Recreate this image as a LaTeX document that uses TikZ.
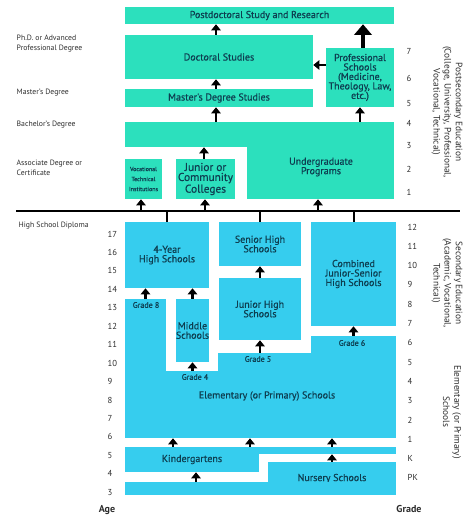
\documentclass[tikz,border=0pt]{standalone}
\usepackage{fontspec}
\setmainfont{PT Sans}
\newfontfamily\zonefont[FakeBold=0.5]{PT Sans}
\usetikzlibrary{arrows.meta}

\definecolor{post}{RGB}{44,224,189}
\definecolor{sec}{RGB}{54,205,238}
\definecolor{ink}{RGB}{14,62,80}
\definecolor{side}{RGB}{45,45,45}

\tikzset{
  rect/.style n args={4}{minimum width={(#3-#1)*0.75pt}, minimum height={(#4-#2)*0.75pt},
    at={({(#1+#3)/2},{(#2+#4)/2})}},
  zone/.style={inner sep=0pt, text=ink, align=center, font=\zonefont\fontsize{7.5}{7.1}\selectfont},
  postzone/.style={zone, fill=post},
  seczone/.style={zone, fill=sec},
  arr/.style={line width=1.8pt, -{Triangle[width=7pt,length=4.5pt]}},
  bigarr/.style={line width=3.6pt, -{Triangle[width=13pt,length=8pt]}},
  side/.style={text=side, align=left, anchor=west, font=\fontsize{5.8}{7.5}\selectfont},
  num/.style={text=side, anchor=west, font=\fontsize{6.5}{7}\selectfont},
  gradelbl/.style={text=ink, font=\zonefont\fontsize{6}{7}\selectfont},
  sect/.style={text=side, align=center, rotate=-90, font=\fontsize{7}{8.3}\selectfont}
}

\begin{document}
\begin{tikzpicture}[x=0.75pt,y=-0.75pt]
        \useasboundingbox (0,0) rectangle (474,521);

        % postsecondary
        \node (postdoc) [postzone, rect={125}{7}{394}{24}] {Postdoctoral Study and Research};
        \node (doc) [postzone, rect={125}{35}{313}{79}] {Doctoral Studies};
        \node (mast) [postzone, rect={125}{89}{313}{107}] {Master's Degree Studies};
        \node (prof) [postzone, rect={326}{48}{394}{107}] {Professional\\Schools\\(Medicine,\\Theology, Law,\\etc.)};
        \node (band) [postzone, rect={125}{122}{394}{147}] {};
        \node (under) [postzone, rect={247}{122}{394}{199}] {};
        \node (undertext) [zone] at (321,167) {Undergraduate\\Programs};
        \node (voc) [postzone, rect={125}{159}{162}{199}, font=\zonefont\fontsize{4.5}{7.5}\selectfont] {Vocational\\Technical\\Institutions};
        \node (jcc) [postzone, rect={176}{159}{235}{199}, font=\zonefont\fontsize{8.5}{7.5}\selectfont] {Junior or\\Community\\Colleges};

        % high school diploma line
        \coordinate (hl) at (16,211);
        \coordinate (hr) at (460,211);
        \draw[line width=2.2pt] (hl) -- (hr);

        % secondary
        \node (hs4) [seczone, rect={125}{222}{209}{288}] {4-Year\\High Schools};
        \node (senior) [seczone, rect={219}{222}{301}{266}] {Senior High\\Schools};
        \node (junior) [seczone, rect={219}{278}{301}{340}] {Junior High\\Schools};
        \node (comb) [seczone, rect={311}{222}{396}{326}] {Combined\\Junior-Senior\\High Schools};
        \node (middle) [seczone, rect={176}{299}{209}{362}] {Middle\\Schools};

        % elementary
        \node (elem) [seczone, rect={125}{371}{396}{438}] {};
        \node (elem8) [seczone, rect={125}{299}{166}{371}] {};
        \node (elem5) [seczone, rect={218}{353}{396}{371}] {};
        \node (elem6) [seczone, rect={311}{336}{396}{353}] {};
        \node (elemtext) [zone] at (267,396) {Elementary (or Primary) Schools};
        \node (g8) [gradelbl] at (146,305) {Grade 8};
        \node (g4) [gradelbl] at (195,377) {Grade 4};
        \node (g5) [gradelbl] at (258,359) {Grade 5};
        \node (g6) [gradelbl] at (352,343) {Grade 6};

        \node (kg) [seczone, rect={125}{447}{259}{472}] {Kindergartens};
        \node (kgr) [seczone, rect={259}{447}{396}{454}] {};
        \node (ns) [seczone, rect={268}{462}{396}{495}] {Nursery Schools};
        \node (nsb) [seczone, rect={125}{482}{396}{495}] {};

        \path[arr]
            (141,0 |- hl) edge (141,0 |- voc.south)
            (205,0 |- hl) edge (205,0 |- jcc.south)
            (318,0 |- hl) edge (318,0 |- under.south)
            (204,0 |- jcc.north) edge (204,0 |- band.south)
            (216,0 |- band.north) edge (216,0 |- mast.south)
            (prof.south |- band.north) edge (prof.south)
            (216,0 |- mast.north) edge (216,0 |- doc.south)
            (216,0 |- doc.north) edge (216,0 |- postdoc.south)
            (prof.west |- 0,65) edge (doc.east |- 0,65)

            (elem8.north) edge (elem8.north |- hs4.south)
            (middle.north) edge (middle.north |- hs4.south)
            (middle.south |- elem.north) edge (middle.south)
            (junior.south |- elem5.north) edge (junior.south)
            (junior.north) edge (senior.south)
            (comb.south |- elem6.north) edge (comb.south)

            (173,0 |- kg.north) edge (173,0 |- elem.south)
            (250,0 |- kg.north) edge (250,0 |- elem.south)
            (332,0 |- kgr.north) edge (332,0 |- elem.south)
            (ns.north) edge (ns.north |- kgr.south)
            (196,0 |- nsb.north) edge (196,0 |- kg.south)
        ;
        \draw[bigarr] (363,0 |- prof.north) -- (363,0 |- postdoc.south);

        \path[line width=1.5pt]
            (hs4.north |- hl) edge (hs4.north)
            (senior.north |- hl) edge (senior.north)
            (comb.north |- hl) edge (comb.north)
        ;

        % left labels
        \node (phd) [side] at (12,44) {Ph.D. or Advanced\\Professional Degree};
        \node (ms) [side] at (12,93) {Master's Degree};
        \node (ba) [side] at (12,125) {Bachelor's Degree};
        \node (ad) [side] at (12,168) {Associate Degree or\\Certificate};
        \node (hsd) [side] at (14,226) {High School Diploma};

        % scales
        \foreach \a in {3,...,17}
            \node (age\a) [num] at (103,{234+(17-\a)*18.45}) {\a};
        \foreach \g/\t in {-1/PK,0/K,1/1,2/2,3/3,4/4,5/5,6/6,7/7,8/8,9/9,10/10,11/11,12/12}
            \node (gr\g) [num] at (403,{227+(12-\g)*19.3}) {\t};
        \foreach \n/\y in {7/51,6/78,5/104,4/123,3/146,2/169,1/192}
            \node (yr\n) [num] at (402,\y) {\n};
        \node (age) [text=side, font=\bfseries\fontsize{7.5}{8}\selectfont] at (107,510) {Age};
        \node (grade) [text=side, font=\bfseries\fontsize{7.5}{8}\selectfont] at (409,509) {Grade};

        % side titles
        \node (posttitle) [sect] at (447,112) {Postsecondary Education\\(College, University, Professional,\\Vocational, Technical)};
        \node (sectitle) [sect] at (447,283) {Secondary Education\\(Academic, Vocational,\\Technical)};
        \node (elemtitle) [sect] at (452,412) {Elementary (or Primary)\\Schools};
    \end{tikzpicture}
\end{document}
